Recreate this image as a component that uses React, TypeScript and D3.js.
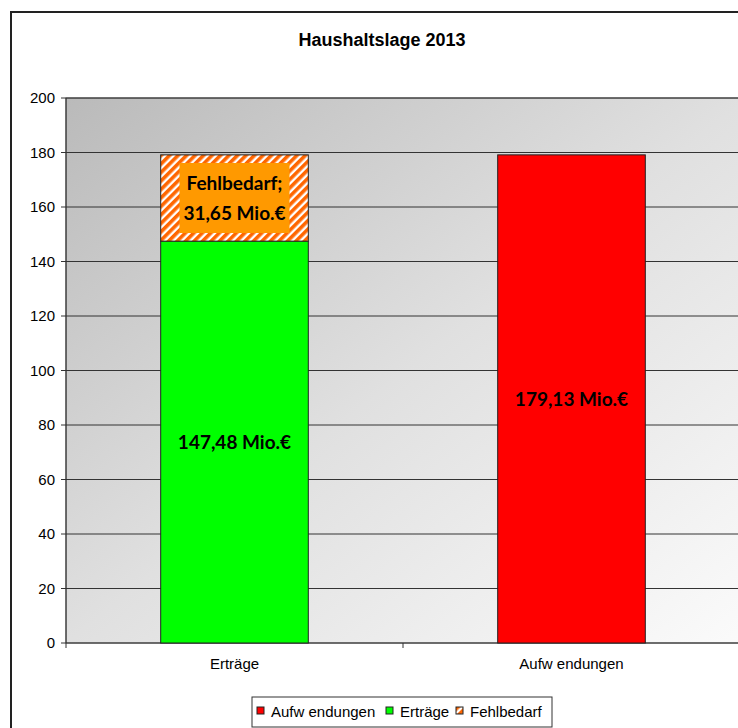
import React from "react";
import * as d3 from "d3";

const categories = ["Erträge", "Aufw endungen"];
const ertraege = [147.48, 0];
const fehlbedarf = [31.65, 0];
const aufwendungen = [0, 179.13];
const yTicks = [0, 20, 40, 60, 80, 100, 120, 140, 160, 180, 200];
const title = "Haushaltslage 2013";
const legendItems = ["Aufw endungen", "Erträge", "Fehlbedarf"];

const W = 738;
const H = 728;
const left = 66;
const right = 740;
const top = 98;
const bottom = 643;

export default function App() {
  const x = d3.scaleBand<string>().domain(categories).range([left, right]).paddingInner(0.562).paddingOuter(0.281);
  const y = d3.scaleLinear().domain([0, 200]).range([bottom, top]);
  const bw = x.bandwidth();
  const labelFont = "Lato, 'Open Sans', sans-serif";
  const axisFont = "'Liberation Sans', Arial, sans-serif";

  const e = categories[0];
  const a = categories[1];
  const xe = x(e)!;
  const xa = x(a)!;

  const legendX = [257, 386, 456];
  const legendTextX = [271, 400, 470];

  return (
    <svg width={W} height={H} style={{ position: "absolute", left: 0, top: 0, display: "block" }}>
      <defs>
        <linearGradient id="bg" x1="0" y1="0" x2="1" y2="1">
          <stop offset="0" stopColor="#bababa" />
          <stop offset="0.5" stopColor="#e0e0e0" />
          <stop offset="1" stopColor="#fbfbfb" />
        </linearGradient>
        <pattern id="hatch" patternUnits="userSpaceOnUse" width="6" height="6" patternTransform="rotate(45)">
          <rect x="0" y="0" width="6" height="6" fill="#ffffff" />
          <rect x="0" y="0" width="3.6" height="6" fill="#ff6600" />
        </pattern>
      </defs>
      <rect x={0} y={0} width={W} height={H} fill="#fff" />
      <rect x={11} y={12} width={W + 10} height={H + 10} fill="#fff" stroke="#222" strokeWidth={2} />
      <text x={382} y={46} textAnchor="middle" fontFamily={axisFont} fontWeight="bold" fontSize={18} fill="#000">
        {title}
      </text>

      <rect x={left} y={top} width={W + 10 - left} height={bottom - top} fill="url(#bg)" stroke="#555" strokeWidth={1} />
      {yTicks.map((t) => (
        <g key={t}>
          {t > 0 && <line x1={left} x2={W + 10} y1={y(t)} y2={y(t)} stroke="#333" strokeWidth={1} />}
          <line x1={left - 5} x2={left} y1={y(t)} y2={y(t)} stroke="#333" strokeWidth={1} />
          <text x={55} y={y(t) + 5} textAnchor="end" fontFamily={axisFont} fontSize={15} fill="#000">
            {t}
          </text>
        </g>
      ))}
      <line x1={left} x2={left} y1={top} y2={bottom + 5} stroke="#333" strokeWidth={1} />
      <line x1={left} x2={W + 10} y1={bottom} y2={bottom} stroke="#333" strokeWidth={1} />
      {categories.map((c, i) => (
        <g key={c}>
          <line x1={left + x.step() * (i + 1)} x2={left + x.step() * (i + 1)} y1={bottom} y2={bottom + 5} stroke="#333" />
          <text x={x(c)! + bw / 2} y={669} textAnchor="middle" fontFamily={axisFont} fontSize={15} fill="#000">
            {c}
          </text>
        </g>
      ))}

      {/* Erträge bar */}
      <rect x={xe} y={y(ertraege[0])} width={bw} height={y(0) - y(ertraege[0])} fill="#00ff00" stroke="#222" strokeWidth={1} />
      <rect
        x={xe}
        y={y(ertraege[0] + fehlbedarf[0])}
        width={bw}
        height={y(ertraege[0]) - y(ertraege[0] + fehlbedarf[0])}
        fill="url(#hatch)"
        stroke="#222"
        strokeWidth={1}
      />
      {/* Aufwendungen bar */}
      <rect x={xa} y={y(aufwendungen[1])} width={bw} height={y(0) - y(aufwendungen[1])} fill="#ff0000" stroke="#222" strokeWidth={1} />

      <text x={xe + bw / 2} y={(y(ertraege[0]) + y(0)) / 2 + 7} textAnchor="middle" fontFamily={labelFont} fontWeight="bold" fontSize={19} fill="#000">
        {`${ertraege[0].toFixed(2).replace(".", ",")} Mio.€`}
      </text>
      <text x={xa + bw / 2} y={(y(aufwendungen[1]) + y(0)) / 2 + 7} textAnchor="middle" fontFamily={labelFont} fontWeight="bold" fontSize={19} fill="#000">
        {`${aufwendungen[1].toFixed(2).replace(".", ",")} Mio.€`}
      </text>
      {(() => {
        const yc = (y(ertraege[0]) + y(ertraege[0] + fehlbedarf[0])) / 2;
        return (
          <g>
            <rect x={xe + bw / 2 - 55} y={yc - 35} width={110} height={70} fill="#ff9900" />
            <text x={xe + bw / 2} y={yc - 8} textAnchor="middle" fontFamily={labelFont} fontWeight="bold" fontSize={19} fill="#000">
              Fehlbedarf;
            </text>
            <text x={xe + bw / 2} y={yc + 22} textAnchor="middle" fontFamily={labelFont} fontWeight="bold" fontSize={19} fill="#000">
              {`${fehlbedarf[0].toFixed(2).replace(".", ",")} Mio.€`}
            </text>
          </g>
        );
      })()}

      {/* Legend */}
      <rect x={252} y={697} width={300} height={30} fill="#fff" stroke="#333" strokeWidth={1} />
      {legendItems.map((l, i) => (
        <g key={l}>
          <rect
            x={legendX[i]}
            y={707}
            width={7}
            height={7}
            fill={i === 0 ? "#ff0000" : i === 1 ? "#00ff00" : "url(#hatch)"}
            stroke="#222"
            strokeWidth={1}
          />
          <text x={legendTextX[i]} y={717} fontFamily={axisFont} fontSize={15} fill="#000">
            {l}
          </text>
        </g>
      ))}
    </svg>
  );
}
